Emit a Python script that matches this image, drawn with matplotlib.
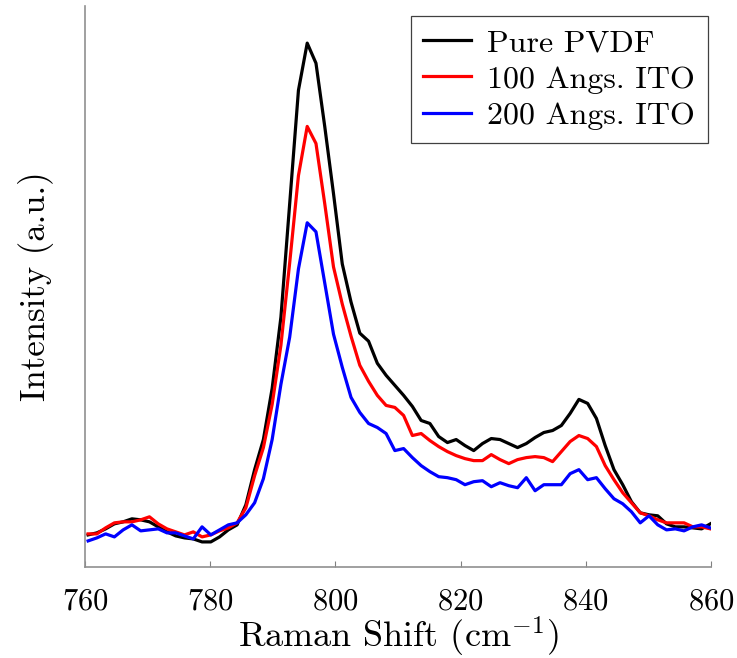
import matplotlib
matplotlib.use('Agg')
import matplotlib.pyplot as plt
import numpy as np

# Raman shift grid (cm^-1), instrument step ~1.4
shift = np.round(np.arange(760.5, 860.0, 1.4), 1)

# intensities (a.u.)
pure_pvdf = [32, 34, 38, 43, 45, 48, 47, 45, 40, 35, 31, 29, 28, 25, 25, 30, 37, 42,
             62, 97, 127, 178, 249, 362, 475, 522, 502, 439, 372, 302, 264, 233,
             225, 203, 191, 181, 171, 160, 146, 143, 130, 124, 127, 121, 116, 123,
             128, 127, 123, 119, 123, 129, 134, 136, 141, 153, 167, 163, 148, 121,
             97, 82, 65, 54, 52, 51, 43, 40, 40, 39, 38, 43]
ito_100 = [33, 33, 39, 44, 45, 45, 47, 50, 43, 38, 35, 32, 35, 30, 32, 36, 39, 44,
           59, 91, 119, 162, 221, 303, 390, 439, 422, 362, 299, 262, 230, 201,
           185, 171, 161, 159, 151, 131, 133, 126, 120, 115, 111, 108, 106, 106,
           112, 107, 103, 107, 109, 110, 109, 105, 115, 125, 131, 128, 120, 101,
           87, 74, 64, 54, 51, 47, 44, 44, 44, 40, 40, 38]
ito_200 = [26, 29, 33, 30, 37, 42, 36, 37, 38, 34, 34, 31, 28, 40, 32, 37, 42, 44,
           52, 64, 88, 127, 182, 229, 297, 343, 334, 283, 232, 199, 169, 154,
           143, 139, 133, 116, 118, 109, 101, 95, 90, 89, 87, 82, 85, 86, 80,
           84, 81, 79, 89, 76, 82, 82, 82, 93, 97, 87, 89, 78, 68, 63, 55, 44,
           51, 42, 37, 38, 36, 40, 42, 39]

plt.rcParams['font.family'] = 'cmr10'
plt.rcParams['mathtext.fontset'] = 'cm'
plt.rcParams['axes.formatter.use_mathtext'] = True

fig = plt.figure(figsize=(7.37, 6.58), dpi=100)
ax = fig.add_axes([0.1153, 0.1383, 0.8494, 0.8526])

ax.plot(shift, pure_pvdf, color='black', lw=2.3, label='Pure PVDF')
ax.plot(shift, ito_100, color='red', lw=2.3, label='100 Angs. ITO')
ax.plot(shift, ito_200, color='blue', lw=2.3, label='200 Angs. ITO')

ax.set_xlim(760, 860)
ax.set_ylim(0, 559)
ax.set_xticks(range(760, 861, 20))
ax.set_yticks([])
ax.tick_params(axis='x', direction='in', length=4, width=0.8, color='#808080',
               labelsize=22, pad=15)
for s in ['top', 'right']:
    ax.spines[s].set_visible(False)
for s in ['left', 'bottom']:
    ax.spines[s].set_color('#909090')
    ax.spines[s].set_linewidth(1.2)

ax.set_xlabel(r'Raman Shift (cm$^{-1}$)', fontsize=26, labelpad=0)
ax.set_ylabel('Intensity (a.u.)', fontsize=25, labelpad=22)

leg = ax.legend(loc='upper right', bbox_to_anchor=(0.995, 0.982), fontsize=23,
                fancybox=False, edgecolor='#404040', framealpha=1,
                handlelength=1.5, handletextpad=0.5, borderpad=0.4,
                labelspacing=0.25, borderaxespad=0)
leg.get_frame().set_linewidth(0.9)

plt.savefig('out.png', format='png')
plt.close()
